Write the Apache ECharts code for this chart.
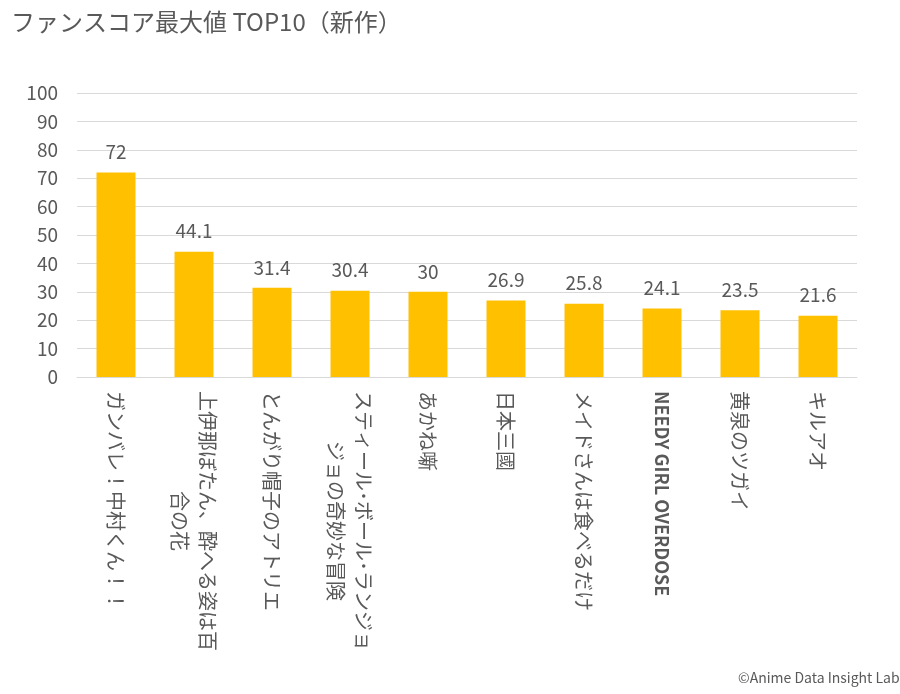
<!DOCTYPE html>
<html>
<head>
<meta charset="utf-8">
<script src="https://cdn.jsdelivr.net/npm/echarts@6/dist/echarts.min.js"></script>
<style>
  html, body { margin: 0; padding: 0; background: #ffffff; }
  #chart { width: 900px; height: 694px; }
</style>
</head>
<body>
<div id="chart"></div>
<script>
// 作品名（改行は元の表の折り返しに合わせる）
const titles = [
  'ガンバレ！中村くん！！',
  '上伊那ぼたん、酔へる姿は百\n合の花',
  'とんがり帽子のアトリエ',
  'スティール･ボール･ランジョ\nジョの奇妙な冒険',
  'あかね噺',
  '日本三國',
  'メイドさんは食べるだけ',
  'NEEDY GIRL OVERDOSE',
  '黄泉のツガイ',
  'キルアオ'
]
// ファンスコア最大値
const scores = [72, 44.1, 31.4, 30.4, 30, 26.9, 25.8, 24.1, 23.5, 21.6]
// 縦軸
const yMin = 0
const yMax = 100
const yStep = 10

const font = '"Noto Sans CJK JP", "Noto Sans", sans-serif'
const gray = '#595959'

let chart = echarts.init(document.getElementById('chart'))

let option = {
  backgroundColor: '#ffffff',
  animation: false,
  title: {
    text: 'ファンスコア最大値 TOP10（新作）',
    left: 6,
    top: 5,
    textStyle: { fontFamily: font, fontSize: 24, fontWeight: 'normal', color: gray }
  },
  grid: {
    left: 77,
    right: 43,
    top: 93,
    bottom: 317,
    outerBoundsMode: 'none'
  },
  xAxis: {
    type: 'category',
    data: titles,
    axisLine: { lineStyle: { color: '#d9d9d9', width: 1 } },
    axisTick: { show: false },
    axisLabel: {
      interval: 0,
      rotate: -90,
      margin: 14,
      fontFamily: font,
      fontSize: 20,
      color: gray,
      // 折り返した行は中央寄せ
      formatter: function (value) {
        if (value === 'NEEDY GIRL OVERDOSE') return '{b|' + value + '}'
        return value.split('\n').map(s => '{c|' + s + '}').join('\n')
      },
      rich: {
        c: { align: 'center', fontFamily: font, fontSize: 20, color: gray, lineHeight: 28 },
        b: { fontFamily: font, fontSize: 18, fontWeight: 'bold', color: gray }
      }
    }
  },
  yAxis: {
    type: 'value',
    min: yMin,
    max: yMax,
    interval: yStep,
    axisLine: { show: false },
    axisTick: { show: false },
    splitLine: { lineStyle: { color: '#d9d9d9', width: 1 } },
    axisLabel: { margin: 19, fontFamily: font, fontSize: 19, color: gray }
  },
  series: [
    {
      type: 'bar',
      data: scores,
      barWidth: '50%',
      itemStyle: { color: '#ffc000' },
      label: {
        show: true,
        position: 'top',
        distance: 11,
        fontFamily: font,
        fontSize: 19,
        color: gray
      }
    }
  ],
  graphic: [
    {
      type: 'text',
      left: 738,
      top: 671,
      style: {
        text: '©Anime Data Insight Lab',
        fontFamily: font,
        fontSize: 14,
        fill: gray
      }
    }
  ]
}

chart.setOption(option)
window.addEventListener('resize', () => {
  chart.resize()
})
</script>
</body>
</html>
